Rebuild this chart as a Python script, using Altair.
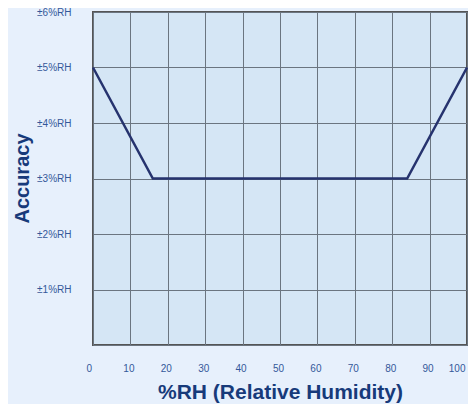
import altair as alt
import pandas as pd

# Data
rh_points = [0, 16, 84, 100]
accuracy_points = [5, 3, 3, 5]
x_ticks = [0, 10, 20, 30, 40, 50, 60, 70, 80, 90, 100]
y_ticks = [0, 1, 2, 3, 4, 5, 6]

df = pd.DataFrame({"rh": rh_points, "acc": accuracy_points})

label_color = "#34589a"
title_color = "#173a7a"

x_enc = alt.X(
    "rh:Q",
    scale=alt.Scale(domain=[0, 100], nice=False, zero=False),
    axis=alt.Axis(
        values=x_ticks,
        title="%RH (Relative Humidity)",
        titleFont="Liberation Sans",
        titleFontSize=21,
        titleFontWeight="bold",
        titleColor=title_color,
        titleBaseline="alphabetic",
        titleY=53,
        labelFont="Liberation Sans",
        labelFontSize=10,
        labelColor=label_color,
        labelPadding=18,
        labelOffset={"condition": {"test": "datum.value == 0", "value": -7}, "value": -2},
        ticks=False,
        domain=False,
        grid=True,
        gridColor="#6b7580",
        gridWidth=1,
        gridOpacity=1,
    ),
)

y_enc = alt.Y(
    "acc:Q",
    scale=alt.Scale(domain=[0, 6], nice=False, zero=True),
    axis=alt.Axis(
        values=y_ticks,
        title="Accuracy",
        titleFont="Liberation Sans",
        titleFontSize=20,
        titleFontWeight="bold",
        titleColor=title_color,
        titleBaseline="alphabetic",
        titleAngle=270,
        titleX=-65,
        titleY=166,
        labelFont="Liberation Sans",
        labelFontSize=10,
        labelColor=label_color,
        labelPadding=22,
        labelExpr="datum.value == 0 ? '' : '±' + datum.value + '%RH'",
        ticks=False,
        domain=False,
        grid=True,
        gridColor="#6b7580",
        gridWidth=1,
        gridOpacity=1,
    ),
)

chart = (
    alt.Chart(df)
    .mark_line(color="#26336e", strokeWidth=2.5)
    .encode(x=x_enc, y=y_enc)
    .properties(
        width=374,
        height=333,
        background="#e7f0fc",
        padding={"left": 85, "top": 4, "right": 1, "bottom": 59},
        autosize=alt.AutoSizeParams(type="none"),
    )
    .configure_view(fill="#d5e6f5", stroke="#555555", strokeWidth=2)
)

chart.save("out.html", embed_options={"renderer": "svg", "actions": False})
